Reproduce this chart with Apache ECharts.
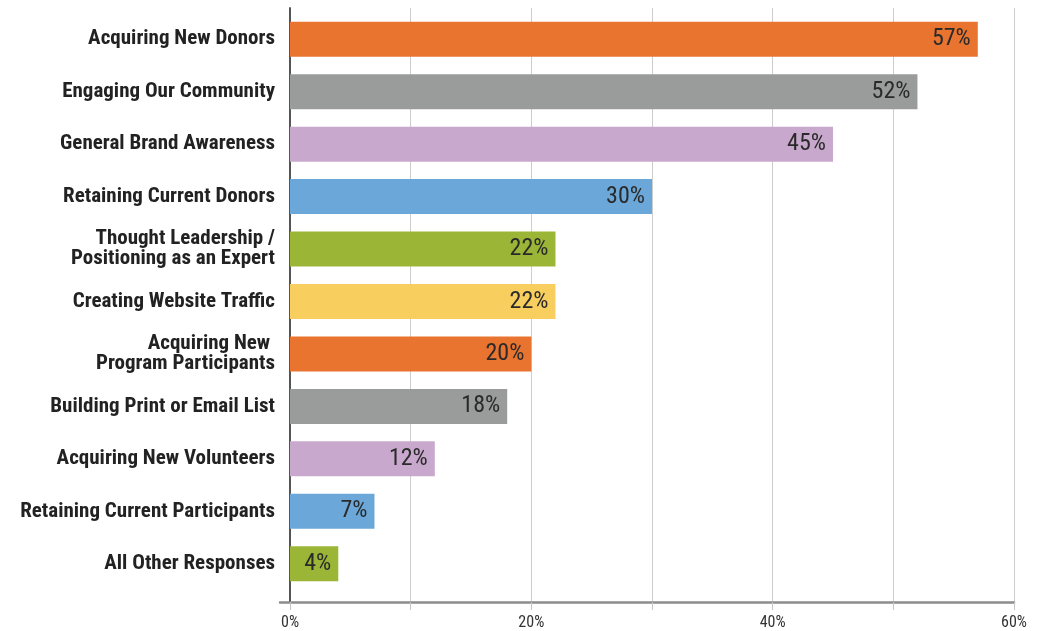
<!DOCTYPE html>
<html>
<head>
<meta charset="utf-8">
<script src="https://cdn.jsdelivr.net/npm/echarts@6/dist/echarts.min.js"></script>
<style>
  html, body { margin: 0; padding: 0; background: #ffffff; }
  #chart { width: 1039px; height: 631px; }
</style>
</head>
<body>
<div id="chart"></div>
<script>
// Goals ranked by share of respondents (percent)
const categories = [
  'Acquiring New Donors',
  'Engaging Our Community',
  'General Brand Awareness',
  'Retaining Current Donors',
  'Thought Leadership /\nPositioning as an Expert',
  'Creating Website Traffic',
  'Acquiring New \nProgram Participants',
  'Building Print or Email List',
  'Acquiring New Volunteers',
  'Retaining Current Participants',
  'All Other Responses'
];
const values = [57, 52, 45, 30, 22, 22, 20, 18, 12, 7, 4];
const barColors = [
  '#E9742F', '#9A9B9B', '#C8A8CC', '#6BA7D8', '#9BB537', '#F8CF5F',
  '#E9742F', '#9A9B9B', '#C8A8CC', '#6BA7D8', '#9BB537'
];
const xMin = 0, xMax = 60, xStep = 10;
const labelledTicks = [0, 20, 40, 60];

const condensed = "'Roboto Condensed', 'Open Sans Condensed', 'DejaVu Sans Condensed', sans-serif";

const chart = echarts.init(document.getElementById('chart'), null, { renderer: 'canvas' });

chart.setOption({
  animation: false,
  backgroundColor: '#ffffff',
  grid: [
    // bars
    { left: 290, top: 13, width: 724, height: 577, outerBoundsMode: 'none', containLabel: false },
    // gridlines, ticks, tick labels, vertical axis line
    { left: 290, top: 8, width: 724, height: 594, outerBoundsMode: 'none', containLabel: false },
    // horizontal baseline, running slightly past the vertical axis
    { left: 280, top: 8, width: 734, height: 594, outerBoundsMode: 'none', containLabel: false }
  ],
  xAxis: [
    {
      gridIndex: 0, type: 'value', min: xMin, max: xMax,
      show: false
    },
    {
      gridIndex: 1, type: 'value', min: xMin, max: xMax, interval: xStep,
      axisLine: { show: false },
      axisTick: { show: true, length: 8, lineStyle: { color: '#c4c4c4', width: 1 } },
      splitLine: { show: true, lineStyle: { color: '#cdcdcd', width: 1 } },
      axisLabel: {
        margin: 13,
        fontFamily: condensed,
        fontSize: 16,
        color: '#333333',
        formatter: v => labelledTicks.includes(v) ? v + '%' : ''
      }
    },
    {
      gridIndex: 2, type: 'value', min: 0, max: 1,
      axisLine: { show: true, lineStyle: { color: '#8c8c8c', width: 2.5 } },
      axisTick: { show: false },
      axisLabel: { show: false },
      splitLine: { show: false }
    }
  ],
  yAxis: [
    {
      gridIndex: 0, type: 'category', data: categories, inverse: true,
      axisLine: { show: false },
      axisTick: { show: false },
      axisLabel: {
        margin: 15,
        align: 'right',
        fontFamily: condensed,
        fontWeight: 'bold',
        fontSize: 21,
        lineHeight: 20,
        color: '#222222'
      }
    },
    {
      gridIndex: 1, type: 'value', min: 0, max: 1,
      axisLine: { show: true, lineStyle: { color: '#555555', width: 2 } },
      axisTick: { show: false },
      axisLabel: { show: false },
      splitLine: { show: false }
    },
    {
      gridIndex: 2, type: 'value', min: 0, max: 1,
      show: false
    }
  ],
  series: [
    {
      type: 'bar',
      xAxisIndex: 0,
      yAxisIndex: 0,
      barWidth: 35,
      z: 3,
      data: values.map((v, i) => ({ value: v, itemStyle: { color: barColors[i] } })),
      label: {
        show: true,
        position: 'insideRight',
        distance: 7,
        formatter: '{c}%',
        fontFamily: condensed,
        fontSize: 24,
        color: '#2a2a2a'
      }
    }
  ]
});
</script>
</body>
</html>
